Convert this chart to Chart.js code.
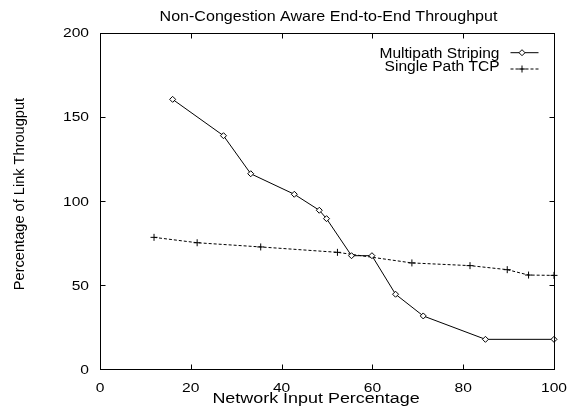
<!DOCTYPE html>
<html>
<head>
<meta charset="utf-8">
<title>Non-Congestion Aware End-to-End Throughput</title>
<script src="https://cdn.jsdelivr.net/npm/chart.js@4.4.1/dist/chart.umd.min.js"></script>
<style>
  html, body { margin: 0; padding: 0; background: #fff; }
  canvas { display: block; }
</style>
</head>
<body>
<canvas id="throughputChart" width="567" height="410"></canvas>
<script>
// network input percentage vs. percentage of link throughput
const multipathX = [16, 27.2, 33.2, 42.8, 48.3, 49.9, 55.4, 59.9, 65.1, 71.2, 84.9, 100];
const multipathY = [160.4, 138.8, 116.2, 104, 94.5, 89.5, 67.5, 67.5, 44.6, 31.7, 17.8, 17.8];
const tcpX = [11.9, 21.4, 35.4, 52.3, 68.7, 81.5, 89.7, 94.4, 100];
const tcpY = [78.4, 75.2, 72.7, 69.5, 63.2, 61.6, 59.2, 56, 55.8];

const seriesNames = ["Multipath Striping", "Single Path TCP"];
const chartTitle = "Non-Congestion Aware End-to-End Throughput";
const xTitle = "Network Input Percentage";
const yTitle = "Percentage of Link Througput";

const FONT = '"Liberation Sans", Arial, Helvetica, sans-serif';

function toPoints(xs, ys) {
  return xs.map((x, i) => ({ x: x, y: ys[i] }));
}

// text helper: the old postscript fonts come out a bit wider than Arial
function drawText(ctx, str, x, y, size, sx, align) {
  ctx.save();
  ctx.font = size + "px " + FONT;
  ctx.fillStyle = "#000";
  ctx.textAlign = align;
  ctx.textBaseline = "alphabetic";
  ctx.translate(x, y);
  ctx.scale(sx, 1);
  ctx.fillText(str, 0, 0);
  ctx.restore();
}

// gnuplot style frame: box, inward ticks on all sides, labels and key
const gnuplotFrame = {
  id: "gnuplotFrame",
  afterDraw(chart) {
    const ctx = chart.ctx;
    const area = chart.chartArea;
    const xs = chart.scales.x;
    const ys = chart.scales.y;
    const L = Math.round(area.left) + 0.5;
    const R = Math.round(area.right) + 0.5;
    const T = Math.round(area.top) + 0.5;
    const B = Math.round(area.bottom) + 0.5;
    const tick = 5;

    ctx.save();
    ctx.strokeStyle = "#000";
    ctx.lineWidth = 1;
    ctx.setLineDash([]);
    ctx.strokeRect(L, T, R - L, B - T);

    ctx.beginPath();
    xs.ticks.forEach(t => {
      const px = Math.round(xs.getPixelForValue(t.value)) + 0.5;
      ctx.moveTo(px, B); ctx.lineTo(px, B - tick);
      ctx.moveTo(px, T); ctx.lineTo(px, T + tick);
    });
    ys.ticks.forEach(t => {
      const py = Math.round(ys.getPixelForValue(t.value)) + 0.5;
      ctx.moveTo(L, py); ctx.lineTo(L + tick, py);
      ctx.moveTo(R, py); ctx.lineTo(R - tick, py);
    });
    ctx.stroke();
    ctx.restore();

    // tick labels
    xs.ticks.forEach(t => {
      drawText(ctx, String(t.value), xs.getPixelForValue(t.value), 391.7, 13, 1.2, "center");
    });
    ys.ticks.forEach(t => {
      drawText(ctx, String(t.value), 89, ys.getPixelForValue(t.value) + 4.6, 13, 1.2, "right");
    });

    // titles
    drawText(ctx, chartTitle, 328.5, 20.7, 15, 1.07, "center");
    drawText(ctx, xTitle, 316, 402.7, 14, 1.28, "center");
    ctx.save();
    ctx.translate(24, 194);
    ctx.rotate(-Math.PI / 2);
    drawText(ctx, yTitle, 0, 0, 14.6, 1, "center");
    ctx.restore();

    // key
    const keyRows = [
      { y: 58, lineY: 52.7, dash: [], style: "rectRot", radius: 3 },
      { y: 71.3, lineY: 69, dash: [3, 2], style: "cross", radius: 3.5 }
    ];
    keyRows.forEach((row, i) => {
      drawText(ctx, seriesNames[i], 499.5, row.y, 14, 1.11, "right");
      ctx.save();
      ctx.strokeStyle = "#000";
      ctx.lineWidth = 1;
      ctx.setLineDash(row.dash);
      ctx.beginPath();
      ctx.moveTo(510.5, row.lineY);
      ctx.lineTo(538.5, row.lineY);
      ctx.stroke();
      ctx.setLineDash([]);
      ctx.fillStyle = "#fff";
      Chart.helpers.drawPoint(ctx, { pointStyle: row.style, radius: row.radius, borderWidth: 1, rotation: 0 }, 522, row.lineY);
      ctx.restore();
    });
  }
};

const ctx = document.getElementById("throughputChart").getContext("2d");
new Chart(ctx, {
  type: "scatter",
  data: {
    datasets: [
      {
        label: seriesNames[0],
        data: toPoints(multipathX, multipathY),
        showLine: true,
        borderColor: "#000",
        borderWidth: 1,
        backgroundColor: "#fff",
        pointStyle: "rectRot",
        pointRadius: 3,
        pointBorderWidth: 1,
        pointBorderColor: "#000",
        pointBackgroundColor: "#fff",
        clip: false
      },
      {
        label: seriesNames[1],
        data: toPoints(tcpX, tcpY),
        showLine: true,
        borderColor: "#000",
        borderWidth: 1,
        borderDash: [3, 2],
        pointStyle: "cross",
        pointRadius: 3.5,
        pointBorderWidth: 1,
        pointBorderColor: "#000",
        clip: false
      }
    ]
  },
  options: {
    responsive: false,
    animation: false,
    layout: { padding: { left: 100, right: 13, top: 32.7, bottom: 40.7 } },
    plugins: {
      legend: { display: false },
      title: { display: false },
      tooltip: { enabled: false }
    },
    scales: {
      x: {
        type: "linear",
        min: 0,
        max: 100,
        ticks: { stepSize: 20, display: false },
        grid: { display: false, drawTicks: false },
        border: { display: false },
        afterFit: s => { s.height = 0; }
      },
      y: {
        type: "linear",
        min: 0,
        max: 200,
        ticks: { stepSize: 50, display: false },
        grid: { display: false, drawTicks: false },
        border: { display: false },
        afterFit: s => { s.width = 0; }
      }
    }
  },
  plugins: [gnuplotFrame]
});
</script>
</body>
</html>
